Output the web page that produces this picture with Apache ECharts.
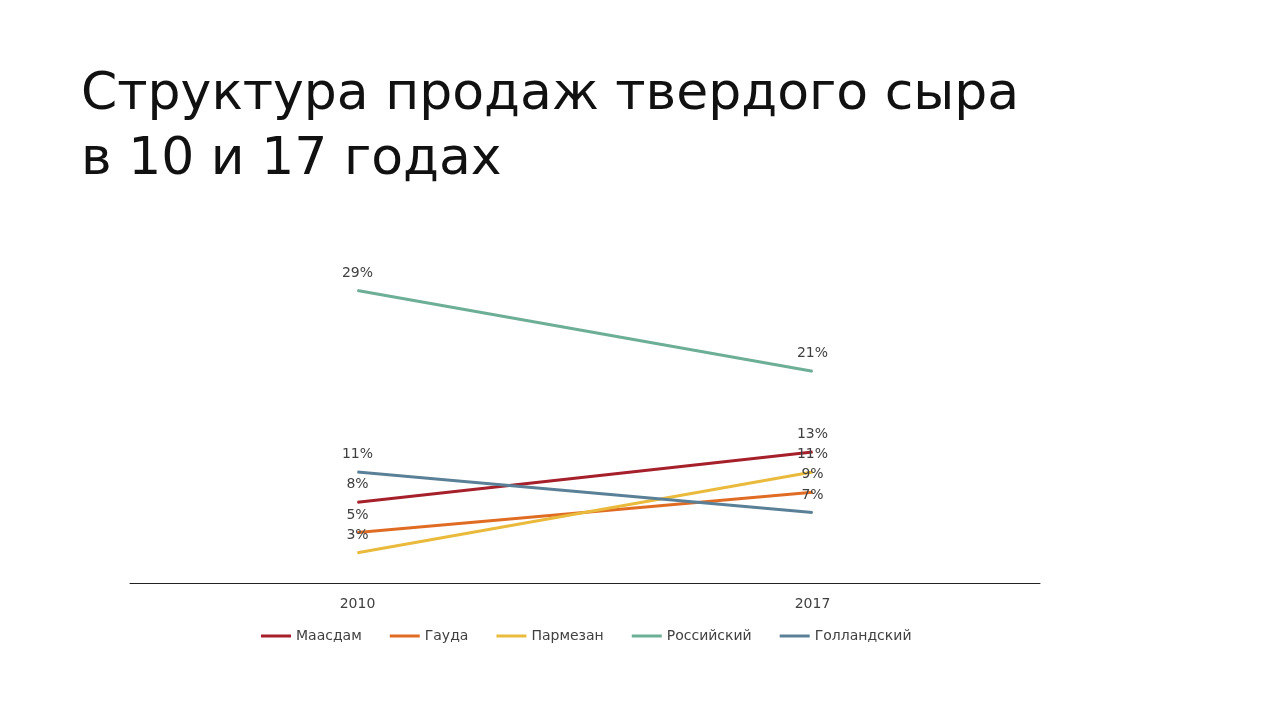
<!DOCTYPE html>
<html><head><meta charset="utf-8">
<script src="https://cdn.jsdelivr.net/npm/echarts@6/dist/echarts.min.js"></script>
<style>html,body{margin:0;padding:0;background:#fff}#c{width:1280px;height:720px}</style>
</head><body><div id="c"></div>
<script>
const categories = ['2010', '2017'];
const seriesNames = ['Маасдам', 'Гауда', 'Пармезан', 'Российский', 'Голландский'];
const maasdam = [8, 13];
const gouda = [5, 9];
const parmesan = [3, 11];
const russian = [29, 21];
const dutch = [11, 7];
const colors = ['#A5202A', '#E06C24', '#E9BA3C', '#6DAE96', '#5A8098'];
const values = [maasdam, gouda, parmesan, russian, dutch];

const chart = echarts.init(document.getElementById('c'));
chart.setOption({
  animation: false,
  backgroundColor: '#fff',
  title: {
    text: 'Структура продаж твердого сыра\nв 10 и 17 годах',
    left: 76, top: 58,
    textStyle: { fontFamily: 'DejaVu Sans', fontSize: 52, fontWeight: 'normal', color: '#111', lineHeight: 65 }
  },
  grid: { left: 130, right: 240, top: 230, bottom: 137 },
  legend: {
    bottom: 72, left: 256,
    icon: 'rect', itemWidth: 30, itemHeight: 3, itemGap: 28,
    textStyle: { fontFamily: 'DejaVu Sans', fontSize: 14, color: '#404040' },
    data: seriesNames
  },
  xAxis: {
    type: 'category', data: categories, boundaryGap: true,
    axisLine: { lineStyle: { color: '#222', width: 1 } },
    axisTick: { show: false },
    axisLabel: { margin: 14, fontFamily: 'DejaVu Sans', fontSize: 14, color: '#404040' }
  },
  yAxis: {
    type: 'value', min: 0, max: 35, show: false, splitLine: { show: false }
  },
  series: seriesNames.map((n, i) => ({
    name: n, type: 'line', data: values[i],
    symbol: 'circle', symbolSize: 1, showSymbol: true,
    lineStyle: { color: colors[i], width: 3 },
    itemStyle: { color: colors[i] },
    label: { show: true, position: 'top', distance: 10, formatter: '{c}%',
      fontFamily: 'DejaVu Sans', fontSize: 14, color: '#404040' }
  }))
});
</script></body></html>
